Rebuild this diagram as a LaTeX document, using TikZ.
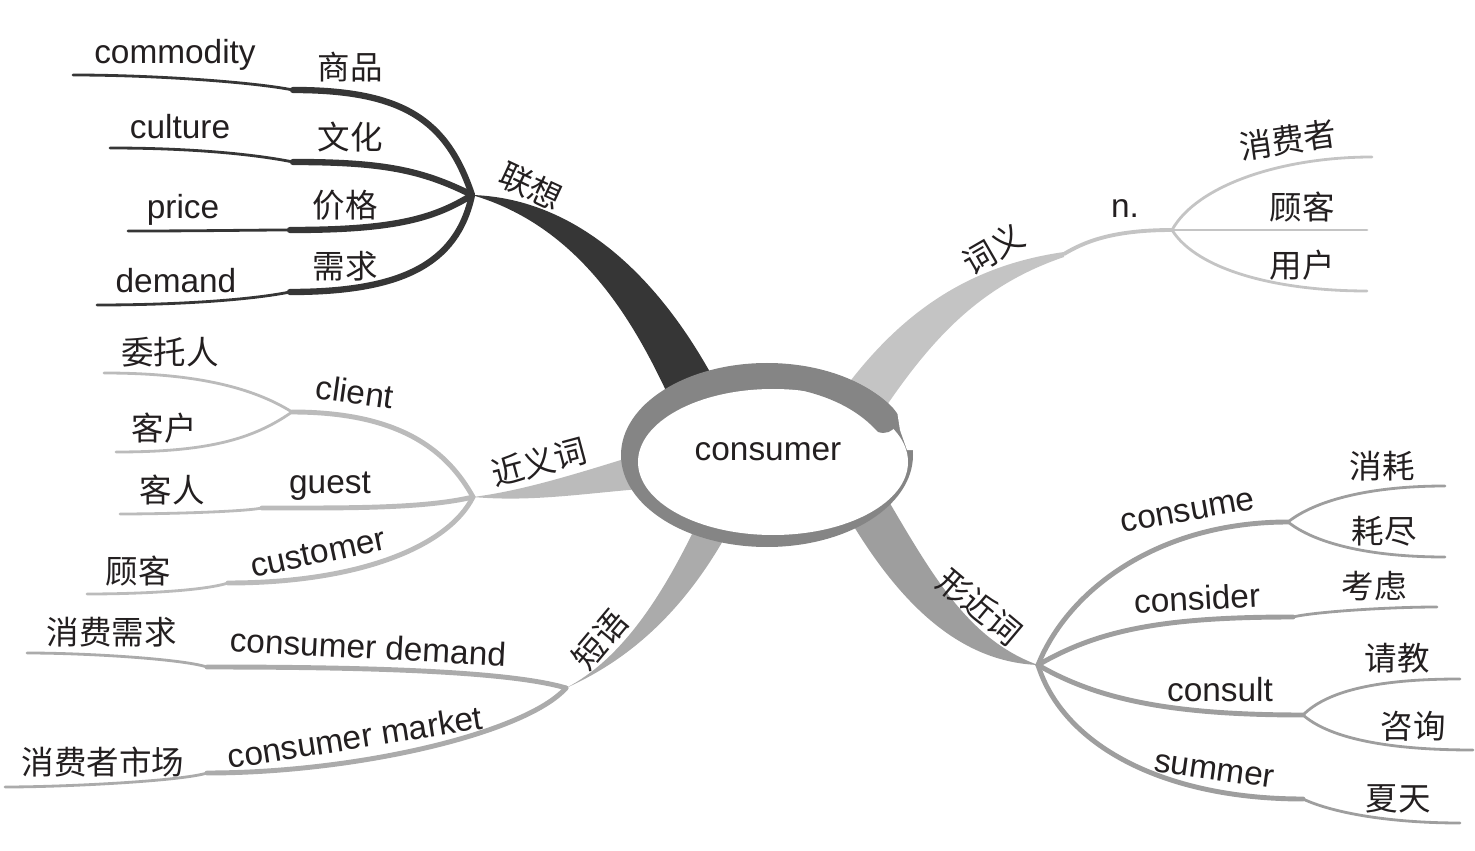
\documentclass[tikz,border=0pt]{standalone}
\usepackage{fontspec}
\setmainfont{Liberation Sans}
\newfontfamily\cjk{Noto Sans CJK SC}
\definecolor{ink}{HTML}{231F20}
\definecolor{ringgray}{HTML}{858585}
\definecolor{lxgray}{HTML}{363636}
\definecolor{cygray}{HTML}{C4C4C4}
\definecolor{jygray}{HTML}{BBBBBB}
\definecolor{dygray}{HTML}{ABABAB}
\definecolor{xjgray}{HTML}{9E9E9E}
\def\plist{{(767,-455)/hub}, {(472,-195)/lx}, {(293,-90)/spm}, {(73,-75)/spe}, {(293,-162)/whm}, {(110,-148)/whe}, {(290,-230)/jgm}, {(128,-231)/jge}, {(290,-292)/xqm}, {(97,-305)/xqe}, {(1064,-254)/cyb}, {(1172,-230)/cy}, {(1372,-157)/xfze}, {(1367,-230)/gke}, {(1367,-291)/yhe}, {(473,-497)/jy}, {(292,-412)/clm}, {(104,-373)/wtre}, {(116,-452)/khe}, {(262,-508)/gum}, {(120,-514)/kre}, {(228,-583)/cum}, {(87,-594)/gkle}, {(566,-688)/dy}, {(207,-667)/cdm}, {(27,-653)/xqde}, {(207,-773)/cmm}, {(5,-787)/sce}, {(1038,-665)/xj}, {(1288,-522)/csm}, {(1445,-486)/xhe}, {(1445,-557)/hje}, {(1293,-617)/cnm}, {(1437,-607)/kle}, {(1303,-715)/com}, {(1460,-679)/qje}, {(1473,-750)/zxe}, {(1303,-799)/smm}, {(1460,-823)/xte}}
\def\enlist{{(175,-55)/commodity/commodity/0}, {(180,-127)/culture/culture/0}, {(183,-210)/price/price/0}, {(176,-281)/demand/demand/0}, {(1125,-209)/noun/n./0}, {(355,-392)/client/client/-8}, {(330,-486)/guest/guest/0}, {(318,-553)/customer/customer/12}, {(368,-647)/cdemand/consumer demand/-3}, {(355,-737)/cmarket/consumer market/9}, {(1188,-512)/consume/consume/10}, {(1197,-598)/consider/consider/3}, {(1220,-690)/consult/consult/0}, {(1214,-771)/summer/summer/-8}}
\def\zhlist{{(350,-67)/shangpin/商品/0}, {(350,-137)/wenhua/文化/0}, {(345,-205)/jiage/价格/0}, {(345,-266)/xuqiu/需求/0}, {(531,-186)/lianxiang/联想/-25}, {(993,-249)/ciyi/词义/30}, {(1288,-140)/xiaofeizhe/消费者/8}, {(1302,-207)/guke/顾客/0}, {(1302,-265)/yonghu/用户/0}, {(539,-462)/jinyici/近义词/15}, {(170,-352)/weituoren/委托人/0}, {(164,-428)/kehu/客户/0}, {(172,-490)/keren/客人/0}, {(138,-571)/gukeb/顾客/0}, {(600,-640)/duanyu/短语/50}, {(112,-632)/xfxq/消费需求/0}, {(103,-762)/xfzsc/消费者市场/0}, {(980,-607)/xingjinci/形近词/-40}, {(1382,-466)/xiaohao/消耗/0}, {(1384,-531)/haojin/耗尽/0}, {(1374,-586)/kaolv/考虑/0}, {(1397,-658)/qingjiao/请教/0}, {(1413,-726)/zixun/咨询/0}, {(1398,-799)/xiatian/夏天/0}}
\tikzstyle{en} = [font=\fontsize{19}{22}\selectfont, text=ink, inner sep=0pt]
\tikzstyle{zh} = [font=\cjk\fontsize{18.5}{22}\selectfont, text=ink, inner sep=0pt]
\tikzstyle{stem} = [draw, line cap=round]
\tikzstyle{twig} = [draw, line width=1.6pt, line cap=round]

\begin{document}
\begin{tikzpicture}[x=0.02cm, y=0.02cm]
  \useasboundingbox (0,0) rectangle (1475,-851);
  \foreach \pos/\name in \plist {
    \node[coordinate] (\name) at \pos {};
  }

  \fill[lxgray] (lx) .. controls (570,-198) and (655,-268) .. (717,-385) -- (668,-395) .. controls (632,-318) and (578,-226) .. (lx) -- cycle;
  \fill[cygray] (842,-392) .. controls (898,-316) and (965,-266) .. (1064,-252) -- (1064,-257) .. controls (985,-284) and (937,-332) .. (887,-405) -- cycle;
  \fill[jygray] (640,-454) .. controls (570,-476) and (520,-491) .. (jy) .. controls (530,-502) and (580,-494) .. (640,-489) -- cycle;
  \fill[dygray] (695,-528) .. controls (660,-600) and (620,-660) .. (dy) .. controls (640,-655) and (690,-600) .. (728,-532) -- cycle;
  \fill[xjgray] (888,-500) .. controls (935,-580) and (970,-640) .. (xj) .. controls (965,-662) and (905,-612) .. (850,-520) -- cycle;

  \foreach \source/\sink/\ax/\ay/\bx/\by/\col/\w in {lx/spm/-25/75/110/0/lxgray/3.6, lx/whm/-50/25/90/0/lxgray/3.6, lx/jgm/-40/-25/100/0/lxgray/3.6, lx/xqm/-15/-70/110/0/lxgray/3.6, cyb/cy/20/12/-60/0/cygray/2.2, jy/clm/-25/45/110/0/jygray/2.8, jy/gum/-50/-12/80/0/jygray/2.8, jy/cum/-25/-50/130/0/jygray/2.8, dy/cdm/-60/18/140/0/dygray/2.8, dy/cmm/-40/-45/150/0/dygray/2.8, xj/csm/30/75/-130/0/xjgray/2.8, xj/cnm/60/35/-130/0/xjgray/2.8, xj/com/60/-35/-130/0/xjgray/2.8, xj/smm/25/-80/-140/0/xjgray/2.8} {
    \path[stem, draw=\col, line width=\w pt] (\source) .. controls +(\ax,\ay) and +(\bx,\by) .. (\sink);
  }
  \foreach \source/\sink/\ax/\ay/\bx/\by/\col in {spm/spe/-40/8/80/0/lxgray, whm/whe/-40/8/80/0/lxgray, jgm/jge/-40/0/80/0/lxgray, xqm/xqe/-40/-8/80/0/lxgray, cy/xfze/25/45/-90/0/cygray, cy/gke/40/0/-40/0/cygray, cy/yhe/25/-40/-90/0/cygray, clm/wtre/-40/25/90/0/jygray, clm/khe/-40/-28/90/0/jygray, gum/kre/-20/-4/40/0/jygray, cum/gkle/-25/-8/50/0/jygray, cdm/xqde/-25/8/60/0/dygray, cmm/sce/-25/-8/60/0/dygray, csm/xhe/25/20/-80/0/xjgray, csm/hje/25/-20/-80/0/xjgray, cnm/kle/20/5/-50/0/xjgray, com/qje/25/25/-80/0/xjgray, com/zxe/25/-22/-90/0/xjgray, smm/xte/30/-14/-70/0/xjgray} {
    \path[twig, draw=\col] (\source) .. controls +(\ax,\ay) and +(\bx,\by) .. (\sink);
  }

  \fill[ringgray] (hub) ellipse [x radius=146, y radius=92];
  \fill[white] (773,-462) ellipse [x radius=135, y radius=73];
  \fill[white] (895,-398) -- (925,-390) -- (925,-450) -- (907,-450) -- (900,-430) -- cycle;
  \fill[ringgray] (800,-366) .. controls (835,-371) and (872,-386) .. (893,-408) .. controls (903,-420) and (894,-437) .. (878,-432) .. controls (860,-412) and (835,-398) .. (800,-390) -- cycle;
  \node[en] (consumer) at (768,-452) {consumer};

  \foreach \pos/\name/\txt/\rot in \enlist {
    \node[en, rotate=\rot] (\name) at \pos {\txt};
  }
  \foreach \pos/\name/\txt/\rot in \zhlist {
    \node[zh, rotate=\rot] (\name) at \pos {\txt};
  }
\end{tikzpicture}
\end{document}
